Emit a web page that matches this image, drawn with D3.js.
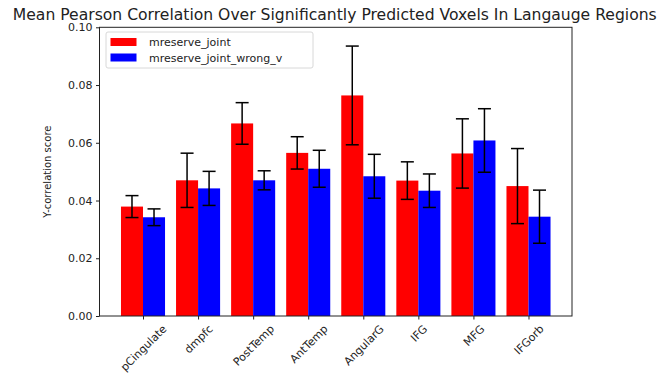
<!DOCTYPE html>
<meta charset="utf-8" />
<script src="https://cdn.jsdelivr.net/npm/d3@7"></script>
<html>
<head>
<style>
    body { margin: 0; background: #fff; }
    text { font-family: "DejaVu Sans", sans-serif; fill: #222; }
</style>
</head>
<body>
<script>
    // region names and per-series means / error half-widths
    const regions = ["pCingulate", "dmpfc", "PostTemp", "AntTemp", "AngularG", "IFG", "MFG", "IFGorb"];
    const jointMean = [0.0379, 0.0470, 0.0667, 0.0565, 0.0764, 0.0469, 0.0563, 0.0450];
    const jointErr = [0.0038, 0.0094, 0.0072, 0.0056, 0.0171, 0.0065, 0.0120, 0.0130];
    const wrongMean = [0.0342, 0.0442, 0.0470, 0.0510, 0.0484, 0.0434, 0.0608, 0.0344];
    const wrongErr = [0.0029, 0.0059, 0.0033, 0.0064, 0.0076, 0.0058, 0.0110, 0.0092];
    const yTicks = [0, 0.02, 0.04, 0.06, 0.08, 0.10];

    const series = [
        { name: "mreserve_joint", color: "#ff0000", mean: jointMean, err: jointErr, off: -0.2 },
        { name: "mreserve_joint_wrong_v", color: "#0000ff", mean: wrongMean, err: wrongErr, off: 0.2 },
    ];

    var width = 664,
        height = 373;
    var mLeft = 99.5, mRight = 572, mTop = 27.3, mBottom = 316;

    var svg = d3.select("body").append("svg")
        .attr("width", width)
        .attr("height", height);

    var x = d3.scaleLinear().domain([-0.79, regions.length - 1 + 0.79]).range([mLeft, mRight]);
    var y = d3.scaleLinear().domain([0, 0.1]).range([mBottom, mTop]);
    var bw = x(0.4) - x(0);

    // bars + error bars
    series.forEach(function (s) {
        var g = svg.append("g");
        g.selectAll("rect")
            .data(regions)
            .enter()
            .append("rect")
            .attr("x", (d, i) => x(i + s.off) - bw / 2)
            .attr("width", bw)
            .attr("y", (d, i) => y(s.mean[i]))
            .attr("height", (d, i) => y(0) - y(s.mean[i]))
            .attr("fill", s.color);

        var e = g.selectAll(".err")
            .data(regions)
            .enter()
            .append("g")
            .attr("class", "err")
            .attr("stroke", "#000")
            .attr("stroke-width", 1.5);
        e.append("line")
            .attr("x1", (d, i) => x(i + s.off))
            .attr("x2", (d, i) => x(i + s.off))
            .attr("y1", (d, i) => y(s.mean[i] - s.err[i]))
            .attr("y2", (d, i) => y(s.mean[i] + s.err[i]));
        [-1, 1].forEach(function (sign) {
            e.append("line")
                .attr("x1", (d, i) => x(i + s.off) - 6.5)
                .attr("x2", (d, i) => x(i + s.off) + 6.5)
                .attr("y1", (d, i) => y(s.mean[i] + sign * s.err[i]))
                .attr("y2", (d, i) => y(s.mean[i] + sign * s.err[i]));
        });
    });

    // frame
    svg.append("rect")
        .attr("x", mLeft).attr("y", mTop)
        .attr("width", mRight - mLeft).attr("height", mBottom - mTop)
        .attr("fill", "none").attr("stroke", "#222").attr("stroke-width", 1);

    // y axis
    var yAxis = svg.append("g")
        .attr("transform", `translate(${mLeft},0)`)
        .call(d3.axisLeft(y).tickValues(yTicks).tickFormat(d3.format(".2f")).tickSize(3.5).tickPadding(3.5));
    yAxis.select(".domain").remove();
    yAxis.selectAll("text").style("font-size", "11px").attr("fill", "#222");
    yAxis.selectAll("line").attr("stroke", "#222");

    // x axis
    var xAxis = svg.append("g")
        .attr("transform", `translate(0,${mBottom})`)
        .call(d3.axisBottom(x).tickValues(d3.range(regions.length)).tickFormat((d) => regions[d]).tickSize(3.5));
    xAxis.select(".domain").remove();
    xAxis.selectAll("line").attr("stroke", "#222");
    xAxis.selectAll("text")
        .style("font-size", "11px")
        .attr("fill", "#222")
        .attr("text-anchor", "middle")
        .attr("dy", null)
        .attr("y", 0)
        .attr("transform", function (d) {
            var w = this.getComputedTextLength();
            var h = 11;
            var c = (w + h) / (2 * Math.SQRT2);
            return `translate(0,${7 + c}) rotate(-45) translate(0,${h * 0.35})`;
        });

    // y label
    svg.append("text")
        .attr("transform", `translate(47,${(mTop + mBottom) / 2}) rotate(-90)`)
        .attr("text-anchor", "middle")
        .attr("dy", "0.35em")
        .style("font-size", "10px")
        .text("Y-correlation score");

    // title
    svg.append("text")
        .attr("x", (mLeft + mRight) / 2 - 1)
        .attr("y", 19.5)
        .attr("text-anchor", "middle")
        .style("font-size", "15.6px")
        .text("Mean Pearson Correlation Over Significantly Predicted Voxels In Langauge Regions");

    // legend
    var lg = svg.append("g");
    lg.append("rect")
        .attr("x", 106).attr("y", 32).attr("width", 207).attr("height", 36)
        .attr("rx", 2).attr("fill", "#fff").attr("fill-opacity", 0.8)
        .attr("stroke", "#d8d8d8");
    series.forEach(function (s, i) {
        lg.append("rect")
            .attr("x", 110.5).attr("y", 38 + i * 15.5)
            .attr("width", 26).attr("height", 8)
            .attr("fill", s.color);
        lg.append("text")
            .attr("x", 149).attr("y", 46 + i * 15.5)
            .style("font-size", "11px")
            .text(s.name);
    });
</script>
</body>
</html>
